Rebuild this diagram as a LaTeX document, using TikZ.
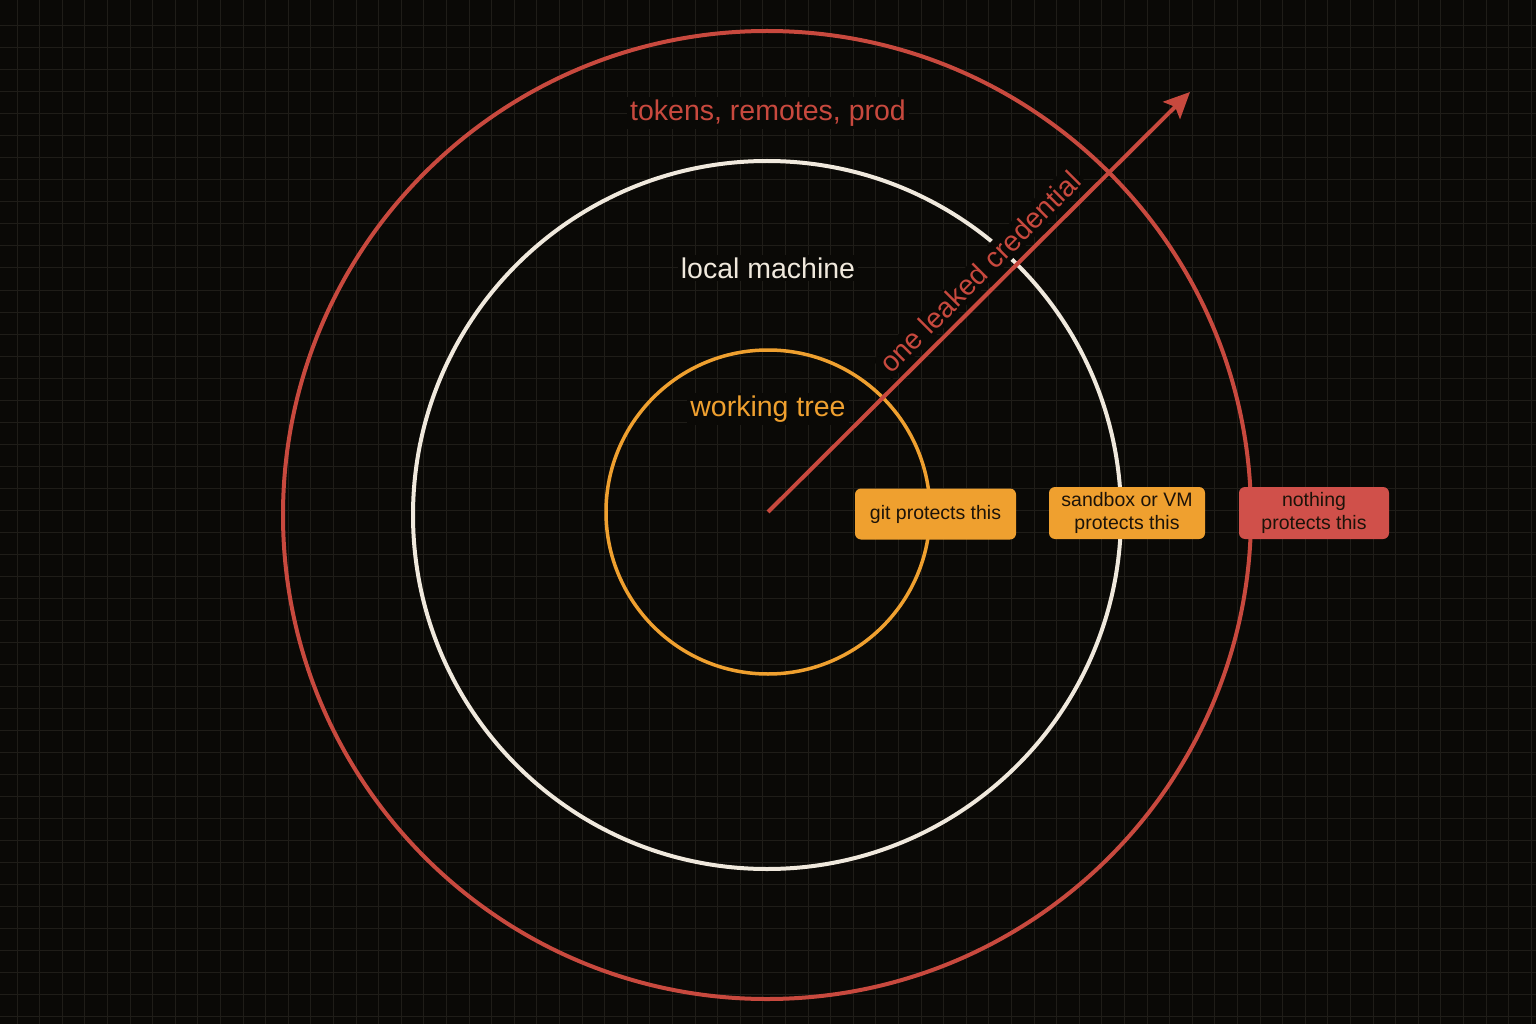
\documentclass[tikz,border=0pt]{standalone}
\usepackage{fontspec}
\setmainfont{Liberation Sans}
\usetikzlibrary{arrows.meta}
\definecolor{bg}{HTML}{0A0906}
\definecolor{gridc}{HTML}{1F1D18}
\definecolor{redc}{HTML}{C8493E}
\definecolor{whitec}{HTML}{F0E9DD}
\definecolor{orangec}{HTML}{EFA02F}
\definecolor{boxred}{HTML}{D0504A}
\definecolor{boxtext}{HTML}{1C1309}
\tikzset{
  lbl/.style={fill=bg, inner sep=3pt, font=\fontsize{28.5}{32}\selectfont},
  tag/.style={rounded corners=6pt, inner sep=0pt, align=center, minimum height=51pt,
              text=boxtext, font=\fontsize{19.5}{23}\selectfont},
  ring/.style={line width=#1},
}
\begin{document}
\begin{tikzpicture}[x=1pt,y=-1pt]
\fill[bg] (0,0) rectangle (1536,1024);
\useasboundingbox (0,0) rectangle (1536,1024);
% grid
\foreach \i in {0,...,67} \draw[gridc, line width=1pt] ({17+\i*22.6},0) -- ++(0,1024);
\foreach \j in {0,...,46} \draw[gridc, line width=1pt] (0,{26+\j*22}) -- ++(1536,0);
% rings
\coordinate (c) at (768,512);
\coordinate (co) at (767,515);
\draw[redc, ring=4pt] (co) circle[radius=484pt];
\draw[whitec, ring=4pt] (co) circle[radius=354pt];
\draw[orangec, ring=3.5pt] (c) circle[radius=162pt];
% ring labels
\node[lbl, text=redc] (tok) at (768,113) {tokens, remotes, prod};
\node[lbl, text=whitec] (loc) at (768,268) {local machine};
\node[lbl, text=orangec] (wt) at (768,409) {working tree};
\node[lbl, text=redc, rotate=45] (leak) at (980,272) {one leaked credential};
% arrow
\coordinate (tip) at (1190,92);
\draw[redc, line width=4pt, -{Stealth[length=26pt,width=24pt,inset=5pt]}] (c) -- (tip);
% tags
\node[tag, fill=orangec, minimum width=161pt] (git) at (935.5,514) {git protects this};
\node[tag, fill=orangec, minimum width=156pt, minimum height=52pt] (sbx) at (1127,513) {sandbox or VM\\protects this};
\node[tag, fill=boxred, minimum width=150pt, minimum height=52pt] (none) at (1314,513) {nothing\\protects this};
\end{tikzpicture}
\end{document}
